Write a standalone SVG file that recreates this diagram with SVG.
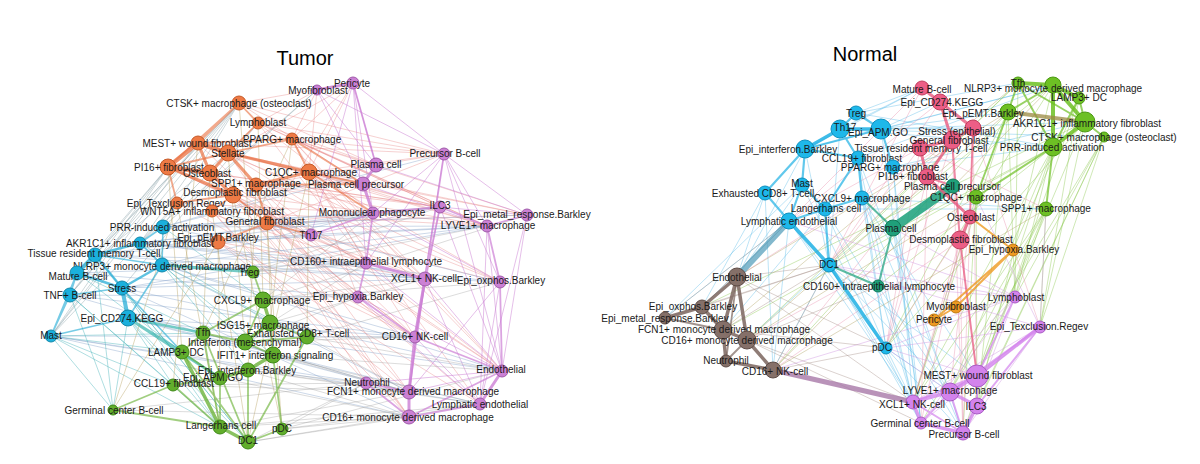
<svg xmlns="http://www.w3.org/2000/svg" width="1200" height="464" viewBox="0 0 1200 464">
<style>
text{font-family:"Liberation Sans",Arial,sans-serif;fill:#1a1a1a;text-anchor:middle;dominant-baseline:central;font-size:10px}
.title{font-size:20px;fill:#000}
circle{stroke-width:1}
.o{fill:#EE7A45;stroke:#C65A28}.b{fill:#1BB0DC;stroke:#1288AA}.g{fill:#62AE2C;stroke:#3F8A18}.p{fill:#CB80D4;stroke:#A05AAA}
.nb{fill:#1EB8EA;stroke:#0E90BE}.pk{fill:#EC5E86;stroke:#C0405F}.tl{fill:#1FA07A;stroke:#117A58}.ng{fill:#6DC024;stroke:#4C9A12}
.or{fill:#EE9A22;stroke:#C07810}.pu{fill:#D383EC;stroke:#A95CC4}.br{fill:#857069;stroke:#5E4C46}
path{fill:none;stroke-linecap:round}
.tr{stroke:#E57A7A;stroke-width:.7;opacity:.5}.tp{stroke:#C978D0;stroke-width:.8;opacity:.6}.tb{stroke:#7C9CC6;stroke-width:.7;opacity:.55}
.tg{stroke:#8AA0A8;stroke-width:.7;opacity:.6}.tt{stroke:#3FB0B8;stroke-width:.7;opacity:.6}.to{stroke:#B8A060;stroke-width:.7;opacity:.6}.tx{stroke:#9A9A9A;stroke-width:.7;opacity:.5}
.nbt{stroke:#52B8E8;stroke-width:.7;opacity:.55}.ngt{stroke:#8CC850;stroke-width:.7;opacity:.6}.npt{stroke:#E88AA8;stroke-width:.7;opacity:.55}.nut{stroke:#CC90E0;stroke-width:.7;opacity:.6}.nrt{stroke:#A08880;stroke-width:.7;opacity:.55}.not{stroke:#B0A060;stroke-width:.7;opacity:.6}
</style>
<rect width="1200" height="464" fill="#fff"/>
<text class="title" x="305" y="58">Tumor</text>
<text class="title" x="865" y="54">Normal</text>
<g id="connectors">
<!-- Tumor thin -->
<path class="tr" d="M239 103L353 83M258 123L444 154M292 139L440 207M309 172L527 215M267 223L500 282M233 195L415 337M256 185L502 371M292 139L487 226M309 172L415 337M267 223L480 404M256 185L409 392M210 173L366 263M228 153L425 279M198 143L373 213M168 167L311 235M309 172L502 371M292 139L425 279M258 123L487 226M239 103L444 154M233 195L409 417M218 242L415 337M212 211L366 383M267 223L409 417M309 172L480 404M256 185L487 226M228 153L440 207M198 143L358 297M210 173L409 392M177 203L366 263M292 139L502 371M309 172L500 282M258 123L373 213M168 167L366 263M292 139L376 165M258 123L376 165M228 153L363 184M309 172L440 207M267 223L358 297"/>
<path class="tr" d="M239 103L376 165M239 103L363 184M258 123L440 207M258 123L366 263M292 139L444 154M292 139L527 215M292 139L366 263M309 172L425 279M309 172L487 226M309 172L358 297M256 185L440 207M256 185L500 282M256 185L415 337M233 195L487 226M233 195L502 371M233 195L366 263M267 223L440 207M267 223L527 215M267 223L425 279M267 223L415 337M267 223L366 383M218 242L409 392M218 242L480 404M218 242L425 279M212 211L415 337M212 211L409 417M212 211L487 226M177 203L373 213M177 203L415 337M168 167L440 207M168 167L425 279M198 143L444 154M198 143L487 226M210 173L440 207M210 173L502 371M228 153L500 282M228 153L409 417M228 153L527 215M317 90L292 139M317 90L309 172M317 90L258 123M353 83L292 139M353 83L309 172M353 83L228 153M353 83L267 223M444 154L309 172M444 154L267 223M444 154L256 185"/>
<path class="tp" d="M353 83L444 154M353 83L376 165M353 83L373 213M353 83L366 263M317 90L363 184M353 83L311 235M444 154L500 282M444 154L487 226M444 154L527 215M444 154L502 371M444 154L366 263M444 154L373 213M444 154L415 337M527 215L502 371M527 215L480 404M527 215L440 207M487 226L502 371M487 226L480 404M500 282L480 404M500 282L409 392M440 207L502 371M440 207L415 337M425 279L502 371M425 279L480 404M373 213L500 282M366 263L502 371M358 297L502 371M376 165L527 215M363 184L487 226M311 235L440 207M358 297L480 404M415 337L480 404M366 383L502 371M409 392L502 371M317 90L376 165M317 90L444 154"/>
<path class="tb" d="M163 227L444 154M163 227L376 165M162 265L487 226M162 265L500 282M140 243L425 279M122 288L366 263M128 318L415 337M128 318L409 392M51 336L366 383M51 336L409 417M70 295L358 297M95 255L311 235M162 265L409 392M122 288L409 417M163 227L527 215M140 243L440 207M77 273L366 263M128 318L480 404M218 242L487 226M212 211L500 282M162 265L373 213M140 243L366 263M163 227L425 279M163 227L487 226M140 243L487 226M140 243L500 282M122 288L425 279M122 288L502 371M95 255L366 263M95 255L425 279M77 273L358 297M70 295L415 337M70 295L409 392M128 318L502 371M162 265L415 337M162 265L502 371M163 227L373 213M51 336L415 337M51 336L480 404M122 288L487 226M140 243L373 213M95 255L440 207M163 227L440 207"/>
<path class="tg" d="M239 103L163 227M239 103L140 243M239 103L95 255M239 103L77 273M239 103L70 295M239 103L51 336M198 143L70 295M198 143L51 336M168 167L51 336M168 167L70 295M168 167L77 273M168 167L95 255M177 203L51 336M258 123L140 243M258 123L122 288M228 153L77 273M317 90L163 227M317 90L140 243"/>
<path class="tt" d="M51 336L113 410M51 336L182 352M51 336L220 427M51 336L173 385M51 336L203 333M70 295L113 410M70 295L220 427M77 273L182 352M95 255L248 442M122 288L220 427M122 288L248 442M128 318L220 427M128 318L248 442M128 318L113 410M128 318L173 385M162 265L248 370M162 265L273 355M140 243L245 342M163 227L263 300M77 273L203 333M95 255L113 410M70 295L173 385M162 265L307 337M140 243L270 323"/>
<path class="to" d="M239 103L253 272M258 123L263 300M228 153L245 342M210 173L203 333M168 167L182 352M198 143L173 385M177 203L220 427M212 211L248 442M233 195L282 429M267 223L273 355M309 172L307 337M292 139L270 323M256 185L248 370M218 242L220 378M218 242L113 410M177 203L113 410M267 223L282 429M309 172L248 442M292 139L203 333"/>
<path class="tx" d="M282 429L409 417M248 442L409 417M248 442L366 383M282 429L480 404M220 427L409 392M307 337L415 337M273 355L409 392M248 370L366 383M270 323L366 263M245 342L358 297M263 300L373 213M253 272L366 263M263 300L425 279M307 337L500 282M273 355L502 371M248 370L480 404M220 378L409 417M173 385L366 383M113 410L409 417M282 429L502 371M263 300L500 282M253 272L487 226M270 323L425 279M245 342L415 337M203 333L409 392M182 352L409 417M173 385L409 392M220 427L409 417M220 427L480 404M248 370L409 392M273 355L480 404M307 337L502 371M307 337L409 392M282 429L366 383M248 442L480 404M113 410L366 383M263 300L527 215M253 272L440 207"/>
<!-- Tumor thick -->
<path stroke="#EA7040" stroke-opacity=".75" stroke-width="4.5" d="M198 143L168 167M168 167L210 173M198 143L228 153"/>
<path stroke="#EA7040" stroke-opacity=".7" stroke-width="3.2" d="M210 173L228 153M168 167L233 195M210 173L233 195M256 185L309 172M198 143L210 173M228 153L309 172M228 153L256 185"/>
<path stroke="#EA7040" stroke-opacity=".6" stroke-width="1.8" d="M267 223L256 185M168 167L228 153M233 195L267 223M292 139L309 172M292 139L228 153M239 103L258 123M258 123L228 153M177 203L233 195M212 211L233 195M218 242L267 223M168 167L177 203M309 172L363 184M267 223L311 235M198 143L292 139M292 139L363 184M239 103L198 143M239 103L168 167M256 185L363 184M309 172L373 213"/>
<path stroke="#1AA8D4" stroke-opacity=".7" stroke-width="4" d="M77 273L95 255M122 288L128 318"/>
<path stroke="#1AA8D4" stroke-opacity=".7" stroke-width="2.5" d="M95 255L140 243M162 265L122 288M77 273L122 288M95 255L122 288"/>
<path stroke="#1AA8D4" stroke-opacity=".6" stroke-width="1.6" d="M140 243L163 227M70 295L122 288M95 255L162 265M140 243L162 265M77 273L70 295M51 336L128 318M51 336L70 295M51 336L77 273M163 227L162 265M128 318L162 265M122 288L182 352"/>
<path stroke="#2AAFA8" stroke-opacity=".65" stroke-width="2.8" d="M128 318L182 352M128 318L220 378M162 265L253 272M128 318L203 333"/>
<path stroke="#62AE2C" stroke-opacity=".75" stroke-width="3.5" d="M220 427L248 442M263 300L270 323M270 323L245 342M273 355L248 370M220 378L248 370M182 352L220 427"/>
<path stroke="#62AE2C" stroke-opacity=".6" stroke-width="1.8" d="M182 352L248 442M203 333L248 442M173 385L220 427M282 429L248 442M245 342L307 337M253 272L263 300M203 333L245 342M203 333L182 352M245 342L273 355M270 323L273 355M263 300L245 342M182 352L220 378M173 385L220 378M248 370L248 442M220 378L220 427M273 355L282 429M203 333L220 427M263 300L203 333M113 410L173 385M113 410L220 427M248 442L307 337M307 337L270 323"/>
<path stroke="#CC7ED4" stroke-opacity=".8" stroke-width="3" d="M317 90L353 83M376 165L363 184M363 184L373 213M366 263L425 279M425 279L415 337M415 337L409 392M409 392L409 417M480 404L502 371"/>
<path stroke="#CC7ED4" stroke-opacity=".7" stroke-width="1.8" d="M373 213L366 263M409 417L502 371M502 371L500 282M500 282L487 226M487 226L527 215M487 226L440 207M440 207L373 213M440 207L425 279M444 154L425 279M358 297L415 337M366 383L409 392M366 383L409 417M409 417L480 404M366 263L358 297M311 235L373 213M353 83L376 165M415 337L502 371M425 279L409 392"/>
<!-- Normal thin -->
<path class="nbt" d="M789 221L665 318M789 221L702 307M802 185L737 277M765 193L737 277M805 149L737 277M825 209L723 330M829 265L747 340M829 265L773 370M862 198L913 402M893 167L921 423M886 348L913 402M886 348L950 392M886 348L963 433M829 265L913 402M829 265L921 423M878 286L913 402M878 286L950 392M893 228L921 423M893 228L963 433M858 158L886 348M825 209L886 348M789 221L773 370M765 193L702 307M802 185L665 318M856 113L922 88M840 129L922 88M881 129L940 102M881 129L1008 112M881 129L1053 85M856 113L1018 83M893 167L1053 147M862 198L1046 209M881 129L1085 122M805 149L1053 85M840 129L1104 137M862 198L977 376M858 158L950 392M856 113L1053 147M840 129L1053 147M805 149L922 88M881 129L973 128M858 158L1053 85M893 167L1085 122M825 209L1046 209M789 221L913 402M802 185L921 423M765 193L773 370M862 198L963 433M829 265L950 392M829 265L977 376M858 158L913 402M881 129L921 423M893 167L913 402M825 209L963 433M862 198L886 348M789 221L886 348M805 149L829 265M840 129L829 265"/>
<path class="ngt" d="M1046 209L1040 327M1046 209L1015 297M1053 147L977 376M1085 122L1040 327M1104 137L1015 297M1104 137L1040 327M1079 98L1013 250M1053 147L950 392M1008 112L913 402M1008 112L773 370M1018 83L747 340M976 197L977 406M1053 85L886 348M1046 209L913 402M1046 209L977 376M1053 147L723 330M1085 122L702 307M1104 137L963 433M1053 147L829 265M1018 83L829 265M1079 98L963 433M1104 137L977 406M1053 85L977 406M1085 122L977 376M1053 147L1015 297M1079 98L1040 327M1008 112L1015 297M1008 112L977 406M976 197L913 402M976 197L963 433M1046 209L950 392M1046 209L921 423M1104 137L950 392M1053 147L913 402M1018 83L1015 297M1053 85L829 265M1008 112L886 348M1053 147L878 286M1085 122L886 348"/>
<path class="npt" d="M960 240L977 376M960 240L913 402M970 217L950 392M952 140L963 433M927 177L921 423M920 148L886 348M940 102L829 265M922 88L789 221M973 128L977 406M960 240L773 370M970 217L747 340M952 140L737 277M920 148L1046 209M973 128L1040 327M922 88L829 265M940 102L789 221M952 140L829 265M920 148L829 265M927 177L886 348M970 217L913 402M960 240L921 423M960 240L963 433M973 128L963 433M927 177L773 370M952 140L886 348M920 148L789 221M970 217L886 348"/>
<path class="nut" d="M1015 297L913 402M1015 297L963 433M1015 297L921 423M1040 327L921 423M1040 327L963 433M1040 327L913 402M1015 297L886 348M1015 297L829 265M1015 297L878 286M1015 297L893 228M1040 327L976 197M1040 327L1046 209M1015 297L773 370M1040 327L886 348M1015 297L789 221M1040 327L829 265M977 376L886 348M950 392L886 348"/>
<path class="nrt" d="M737 277L829 265M773 370L886 348M747 340L878 286M723 330L829 265M702 307L789 221M665 318L789 221M737 277L913 402M747 340L921 423M737 277L886 348M723 330L886 348M773 370L829 265M702 307L829 265M665 318L829 265M747 340L913 402"/>
<path class="not" d="M1008 112L737 277M1018 83L723 330M1008 112L747 340M1053 85L773 370M976 197L747 340M1046 209L773 370"/>
<!-- Normal thick -->
<path stroke="#4D9AB8" stroke-opacity=".7" stroke-width="6" d="M789 221L737 277"/>
<path stroke="#1EB0E4" stroke-opacity=".85" stroke-width="3.5" d="M840 129L881 129M805 149L840 129M789 221L829 265M829 265L886 348"/>
<path stroke="#1EB0E4" stroke-opacity=".7" stroke-width="2.2" d="M856 113L840 129M805 149L881 129M805 149L802 185M802 185L789 221M825 209L789 221M765 193L789 221M862 198L825 209M825 209L829 265M802 185L825 209M858 158L840 129M858 158L805 149M893 167L881 129M881 129L856 113M858 158L825 209M805 149L765 193M862 198L858 158"/>
<path stroke="#1AA07A" stroke-opacity=".85" stroke-width="9" d="M893 228L953 186"/>
<path stroke="#1AA07A" stroke-opacity=".7" stroke-width="2" d="M878 286L893 228M893 228L862 198M878 286L829 265"/>
<path stroke="#E85A80" stroke-opacity=".8" stroke-width="3" d="M922 88L940 102M940 102L973 128M973 128L952 140M952 140L920 148M920 148L927 177M927 177L970 217M970 217L960 240M952 140L927 177M940 102L952 140"/>
<path stroke="#E85A80" stroke-opacity=".7" stroke-width="2" d="M973 128L970 217M960 240L977 376M952 140L960 240M927 177L953 186"/>
<path stroke="#6CBF22" stroke-opacity=".85" stroke-width="4" d="M1018 83L1053 85M1053 85L1079 98M1053 85L1085 122M1085 122L1053 147M1053 85L1053 147"/>
<path stroke="#6CBF22" stroke-opacity=".7" stroke-width="2" d="M1085 122L1104 137M1079 98L1085 122M1018 83L1053 147M1079 98L1053 147M1008 112L1053 85M1018 83L1008 112M1053 147L976 197M1053 147L1046 209M976 197L1008 112M1018 83L1085 122"/>
<path stroke="#9A8A40" stroke-opacity=".75" stroke-width="4" d="M1008 112L1085 122"/>
<path stroke="#7B655E" stroke-opacity=".85" stroke-width="3.5" d="M737 277L702 307M702 307L665 318M737 277L723 330M723 330L747 340M702 307L723 330M723 330L726 361M747 340L773 370M726 361L773 370M737 277L747 340"/>
<path stroke="#7B655E" stroke-opacity=".7" stroke-width="1.8" d="M665 318L723 330M737 277L726 361M747 340L726 361"/>
<path stroke="#A878A8" stroke-opacity=".8" stroke-width="5" d="M773 370L913 402"/>
<path stroke="#D383EC" stroke-opacity=".8" stroke-width="3.5" d="M977 376L950 392M950 392L977 406M950 392L913 402M913 402L921 423M921 423L963 433M977 406L963 433M1040 327L977 376"/>
<path stroke="#D383EC" stroke-opacity=".7" stroke-width="2" d="M1040 327L950 392M1040 327L977 406M913 402L963 433M977 376L977 406M950 392L963 433M950 392L921 423M1015 297L977 376M977 376L913 402"/>
<path stroke="#EE9A22" stroke-opacity=".8" stroke-width="2" d="M1013 250L934 320M956 307L934 320M1013 250L956 307M970 217L1013 250"/>
</g>
<!-- Tumor nodes -->
<g id="t-ctsk"><circle class="o" cx="239" cy="103" r="7"/><text x="239" y="103">CTSK+ macrophage (osteoclast)</text></g>
<g id="t-lyb"><circle class="o" cx="258" cy="123" r="6"/><text x="258" y="122" font-size="9.5">Lymphoblast</text></g>
<g id="t-mest"><circle class="o" cx="198" cy="143" r="7"/><text x="197" y="143">MEST+ wound fibroblast</text></g>
<g id="t-pparg"><circle class="o" cx="292" cy="139" r="6"/><text x="292" y="139">PPARG+ macrophage</text></g>
<g id="t-stl"><circle class="o" cx="228" cy="153" r="8"/><text x="228" y="153" font-size="10.5">Stellate</text></g>
<g id="t-pi16"><circle class="o" cx="168" cy="167" r="8"/><text x="169" y="167" font-size="10.5">PI16+ fibroblast</text></g>
<g id="t-ost"><circle class="o" cx="210" cy="173" r="8"/><text x="207" y="173" font-size="10.5">Osteoblast</text></g>
<g id="t-c1qc"><circle class="o" cx="309" cy="172" r="8"/><text x="311" y="172" font-size="10.5">C1QC+ macrophage</text></g>
<g id="t-spp1"><circle class="o" cx="256" cy="185" r="7"/><text x="256" y="183" font-size="10.5">SPP1+ macrophage</text></g>
<g id="t-plp"><circle class="p" cx="363" cy="184" r="7"/><text x="356" y="184">Plasma cell precursor</text></g>
<g id="t-des"><circle class="o" cx="233" cy="195" r="8"/><text x="235" y="192" font-size="10.5">Desmoplastic fibroblast</text></g>
<g id="t-etx"><circle class="o" cx="177" cy="203" r="6"/><text x="176" y="203">Epi_Texclusion.Regev</text></g>
<g id="t-wnt"><circle class="o" cx="212" cy="211" r="6"/><text x="212" y="211">WNT5A+ inflammatory fibroblast</text></g>
<g id="t-gen"><circle class="o" cx="267" cy="223" r="7"/><text x="265" y="221" font-size="10.5">General fibroblast</text></g>
<g id="t-prr"><circle class="b" cx="163" cy="227" r="7"/><text x="162" y="227">PRR-induced activation</text></g>
<g id="t-pemt"><circle class="o" cx="218" cy="242" r="7"/><text x="218" y="237">Epi_pEMT.Barkley</text></g>
<g id="t-akr"><circle class="b" cx="140" cy="243" r="6"/><text x="140" y="243">AKR1C1+ inflammatory fibroblast</text></g>
<g id="t-trm"><circle class="b" cx="95" cy="255" r="7"/><text x="94" y="253">Tissue resident memory T-cell</text></g>
<g id="t-nlrp"><circle class="b" cx="162" cy="265" r="7"/><text x="162" y="266">NLRP3+ monocyte derived macrophage</text></g>
<g id="t-matb"><circle class="b" cx="77" cy="273" r="7"/><text x="78" y="276">Mature B-cell</text></g>
<g id="t-treg"><circle class="g" cx="253" cy="272" r="6"/><text x="249" y="272">Treg</text></g>
<g id="t-str"><circle class="b" cx="122" cy="288" r="7"/><text x="122" y="288">Stress</text></g>
<g id="t-tnf"><circle class="b" cx="70" cy="295" r="7"/><text x="70" y="295">TNF+ B-cell</text></g>
<g id="t-cxcl9"><circle class="g" cx="263" cy="300" r="8"/><text x="262" y="300">CXCL9+ macrophage</text></g>
<g id="t-th17"><circle class="p" cx="311" cy="235" r="6"/><text x="311" y="235">Th17</text></g>
<g id="t-mono"><circle class="p" cx="373" cy="213" r="6"/><text x="372" y="212">Mononuclear phagocyte</text></g>
<g id="t-ilc3"><circle class="p" cx="440" cy="207" r="6"/><text x="440" y="205">ILC3</text></g>
<g id="t-emet"><circle class="p" cx="527" cy="215" r="6"/><text x="527" y="214" font-size="9">Epi_metal_response.Barkley</text></g>
<g id="t-lyve"><circle class="p" cx="487" cy="226" r="6"/><text x="488" y="225">LYVE1+ macrophage</text></g>
<g id="t-cd160"><circle class="p" cx="366" cy="263" r="6"/><text x="366" y="261">CD160+ intraepithelial lymphocyte</text></g>
<g id="t-xcl1"><circle class="p" cx="425" cy="279" r="7"/><text x="424" y="278">XCL1+ NK-cell</text></g>
<g id="t-eox"><circle class="p" cx="500" cy="282" r="6"/><text x="501" y="280" font-size="9">Epi_oxphos.Barkley</text></g>
<g id="t-ehyp"><circle class="p" cx="358" cy="297" r="6"/><text x="358" y="296" font-size="9.5">Epi_hypoxia.Barkley</text></g>
<g id="t-cd274"><circle class="b" cx="128" cy="318" r="8"/><text x="122" y="318">Epi_CD274.KEGG</text></g>
<g id="t-mast"><circle class="b" cx="51" cy="336" r="6"/><text x="51" y="335" font-size="8">Mast</text></g>
<g id="t-tfh"><circle class="g" cx="203" cy="333" r="7"/><text x="203" y="332">Tfh</text></g>
<g id="t-isg"><circle class="g" cx="270" cy="323" r="8"/><text x="263" y="325">ISG15+ macrophage</text></g>
<g id="t-exh"><circle class="g" cx="307" cy="337" r="7"/><text x="298" y="333">Exhausted CD8+ T-cell</text></g>
<g id="t-ifnm"><circle class="g" cx="245" cy="342" r="8"/><text x="245" y="342">Interferon (mesenchymal)</text></g>
<g id="t-lamp"><circle class="g" cx="182" cy="352" r="7"/><text x="176" y="352">LAMP3+ DC</text></g>
<g id="t-ifit"><circle class="g" cx="273" cy="355" r="8"/><text x="275" y="355">IFIT1+ interferon signaling</text></g>
<g id="t-eifn"><circle class="g" cx="248" cy="370" r="7"/><text x="247" y="370">Epi_interferon.Barkley</text></g>
<g id="t-apm"><circle class="g" cx="220" cy="378" r="7"/><text x="213" y="377">Epi_APM.GO</text></g>
<g id="t-ccl19"><circle class="g" cx="173" cy="385" r="6"/><text x="174" y="383">CCL19+ fibroblast</text></g>
<g id="t-germ"><circle class="g" cx="113" cy="410" r="5"/><text x="114" y="410" font-size="8">Germinal center B-cell</text></g>
<g id="t-lang"><circle class="g" cx="220" cy="427" r="7"/><text x="221" y="425" font-size="10.5">Langerhans cell</text></g>
<g id="t-pdc"><circle class="g" cx="282" cy="429" r="6"/><text x="282" y="428">pDC</text></g>
<g id="t-dc1"><circle class="g" cx="248" cy="442" r="7"/><text x="248" y="440" font-size="11">DC1</text></g>
<g id="t-nk16"><circle class="p" cx="415" cy="337" r="6"/><text x="415" y="336">CD16+ NK-cell</text></g>
<g id="t-endo"><circle class="p" cx="502" cy="371" r="6"/><text x="501" y="369" font-size="9.5">Endothelial</text></g>
<g id="t-neut"><circle class="p" cx="366" cy="383" r="6"/><text x="367" y="382" font-size="9">Neutrophil</text></g>
<g id="t-fcn1"><circle class="p" cx="409" cy="392" r="7"/><text x="413" y="391">FCN1+ monocyte derived macrophage</text></g>
<g id="t-lend"><circle class="p" cx="480" cy="404" r="6"/><text x="480" y="404" font-size="9">Lymphatic endothelial</text></g>
<g id="t-m16"><circle class="p" cx="409" cy="417" r="7"/><text x="408" y="417">CD16+ monocyte derived macrophage</text></g>
<g id="t-myo"><circle class="p" cx="317" cy="90" r="5"/><text x="318" y="90" font-size="8.5">Myofibroblast</text></g>
<g id="t-per"><circle class="p" cx="353" cy="83" r="6"/><text x="352" y="83" font-size="8.5">Pericyte</text></g>
<g id="t-precb"><circle class="p" cx="444" cy="154" r="6"/><text x="445" y="153" font-size="9">Precursor B-cell</text></g>
<g id="t-pla"><circle class="p" cx="376" cy="165" r="7"/><text x="376" y="164" font-size="10.5">Plasma cell</text></g>
<!-- Normal nodes -->
<g id="n-treg"><circle class="nb" cx="856" cy="113" r="7"/><text x="856" y="113" font-size="11">Treg</text></g>
<g id="n-th17"><circle class="nb" cx="840" cy="129" r="9"/><text x="845" y="127" font-size="12">Th17</text></g>
<g id="n-apm"><circle class="nb" cx="881" cy="129" r="10"/><text x="878" y="132" font-size="10.5">Epi_APM.GO</text></g>
<g id="n-eifn"><circle class="nb" cx="805" cy="149" r="9"/><text x="788" y="149">Epi_interferon.Barkley</text></g>
<g id="n-trm"><circle class="pk" cx="920" cy="148" r="8"/><text x="921" y="148">Tissue resident memory T-cell</text></g>
<g id="n-ccl19"><circle class="nb" cx="858" cy="158" r="7"/><text x="862" y="158">CCL19+ fibroblast</text></g>
<g id="n-pparg"><circle class="nb" cx="893" cy="167" r="7"/><text x="890" y="167">PPARG+ macrophage</text></g>
<g id="n-pi16"><circle class="pk" cx="927" cy="177" r="8"/><text x="913" y="176">PI16+ fibroblast</text></g>
<g id="n-mast"><circle class="nb" cx="802" cy="185" r="7"/><text x="802" y="183" font-size="11">Mast</text></g>
<g id="n-exh"><circle class="nb" cx="765" cy="193" r="7"/><text x="763" y="193">Exhausted CD8+ T-cell</text></g>
<g id="n-cxcl9"><circle class="nb" cx="862" cy="198" r="7"/><text x="862" y="198">CXCL9+ macrophage</text></g>
<g id="n-lang"><circle class="nb" cx="825" cy="209" r="7"/><text x="826" y="208">Langerhans cell</text></g>
<g id="n-lend"><circle class="nb" cx="789" cy="221" r="8"/><text x="789" y="221">Lymphatic endothelial</text></g>
<g id="n-pla"><circle class="tl" cx="893" cy="228" r="8"/><text x="891" y="228">Plasma cell</text></g>
<g id="n-dc1"><circle class="nb" cx="829" cy="265" r="7"/><text x="829" y="264" font-size="11">DC1</text></g>
<g id="n-endo"><circle class="br" cx="737" cy="277" r="9"/><text x="737" y="277">Endothelial</text></g>
<g id="n-cd160"><circle class="tl" cx="878" cy="286" r="6"/><text x="879" y="286" font-size="8">CD160+ intraepithelial lymphocyte</text></g>
<g id="n-eox"><circle class="br" cx="702" cy="307" r="7"/><text x="693" y="306">Epi_oxphos.Barkley</text></g>
<g id="n-emet"><circle class="br" cx="665" cy="318" r="6"/><text x="665" y="318" font-size="9.5">Epi_metal_response.Barkley</text></g>
<g id="n-fcn1"><circle class="br" cx="723" cy="330" r="9"/><text x="724" y="329">FCN1+ monocyte derived macrophage</text></g>
<g id="n-m16"><circle class="br" cx="747" cy="340" r="9"/><text x="747" y="340">CD16+ monocyte derived macrophage</text></g>
<g id="n-neut"><circle class="br" cx="726" cy="361" r="6"/><text x="726" y="360">Neutrophil</text></g>
<g id="n-nk16"><circle class="br" cx="773" cy="370" r="8"/><text x="775" y="371">CD16+ NK-cell</text></g>
<g id="n-pdc"><circle class="nb" cx="886" cy="348" r="6"/><text x="882" y="347" font-size="11">pDC</text></g>
<g id="n-xcl1"><circle class="pu" cx="913" cy="402" r="7"/><text x="912" y="404">XCL1+ NK-cell</text></g>
<g id="n-germ"><circle class="pu" cx="921" cy="423" r="6"/><text x="920" y="423">Germinal center B-cell</text></g>
<g id="n-precb"><circle class="pu" cx="963" cy="433" r="7"/><text x="964" y="434">Precursor B-cell</text></g>
<g id="n-ilc3"><circle class="pu" cx="977" cy="406" r="8"/><text x="976" y="406" font-size="11">ILC3</text></g>
<g id="n-lyve"><circle class="pu" cx="950" cy="392" r="9"/><text x="950" y="390">LYVE1+ macrophage</text></g>
<g id="n-mest"><circle class="pu" cx="977" cy="376" r="11"/><text x="978" y="375">MEST+ wound fibroblast</text></g>
<g id="n-etx"><circle class="pu" cx="1040" cy="327" r="6"/><text x="1039" y="326">Epi_Texclusion.Regev</text></g>
<g id="n-myo"><circle class="or" cx="956" cy="307" r="6"/><text x="956" y="306" font-size="9.5">Myofibroblast</text></g>
<g id="n-per"><circle class="or" cx="934" cy="320" r="6"/><text x="934" y="319">Pericyte</text></g>
<g id="n-lyb"><circle class="pu" cx="1015" cy="297" r="6"/><text x="1016" y="297">Lymphoblast</text></g>
<g id="n-ehyp"><circle class="or" cx="1013" cy="250" r="6"/><text x="1014" y="249" font-size="8.5">Epi_hypoxia.Barkley</text></g>
<g id="n-des"><circle class="pk" cx="960" cy="240" r="9"/><text x="961" y="239" font-size="10.5">Desmoplastic fibroblast</text></g>
<g id="n-ost"><circle class="pk" cx="970" cy="217" r="7"/><text x="971" y="217" font-size="10.5">Osteoblast</text></g>
<g id="n-spp1"><circle class="ng" cx="1046" cy="209" r="7"/><text x="1046" y="208">SPP1+ macrophage</text></g>
<g id="n-c1qc"><circle class="ng" cx="976" cy="197" r="7"/><text x="976" y="197" font-size="10.5">C1QC+ macrophage</text></g>
<g id="n-plp"><circle class="tl" cx="953" cy="186" r="7"/><text x="952" y="186">Plasma cell precursor</text></g>
<g id="n-gen"><circle class="pk" cx="952" cy="140" r="9"/><text x="949" y="140">General fibroblast</text></g>
<g id="n-str"><circle class="pk" cx="973" cy="128" r="8"/><text x="957" y="131">Stress (epithelial)</text></g>
<g id="n-pemt"><circle class="ng" cx="1008" cy="112" r="8"/><text x="983" y="113">Epi_pEMT.Barkley</text></g>
<g id="n-cd274"><circle class="pk" cx="940" cy="102" r="8"/><text x="942" y="102">Epi_CD274.KEGG</text></g>
<g id="n-matb"><circle class="pk" cx="922" cy="88" r="7"/><text x="922" y="89">Mature B-cell</text></g>
<g id="n-tfh"><circle class="ng" cx="1018" cy="83" r="6"/><text x="1018" y="83">Tfh</text></g>
<g id="n-nlrp"><circle class="ng" cx="1053" cy="85" r="8"/><text x="1053" y="88">NLRP3+ monocyte derived macrophage</text></g>
<g id="n-lamp"><circle class="ng" cx="1079" cy="98" r="6"/><text x="1079" y="97">LAMP3+ DC</text></g>
<g id="n-akr"><circle class="ng" cx="1085" cy="122" r="10"/><text x="1087" y="123">AKR1C1+ inflammatory fibroblast</text></g>
<g id="n-ctsk"><circle class="ng" cx="1104" cy="137" r="5"/><text x="1104" y="137" font-size="9">CTSK+ macrophage (osteoclast)</text></g>
<g id="n-prr"><circle class="ng" cx="1053" cy="147" r="9"/><text x="1052" y="147">PRR-induced activation</text></g>
</svg>
